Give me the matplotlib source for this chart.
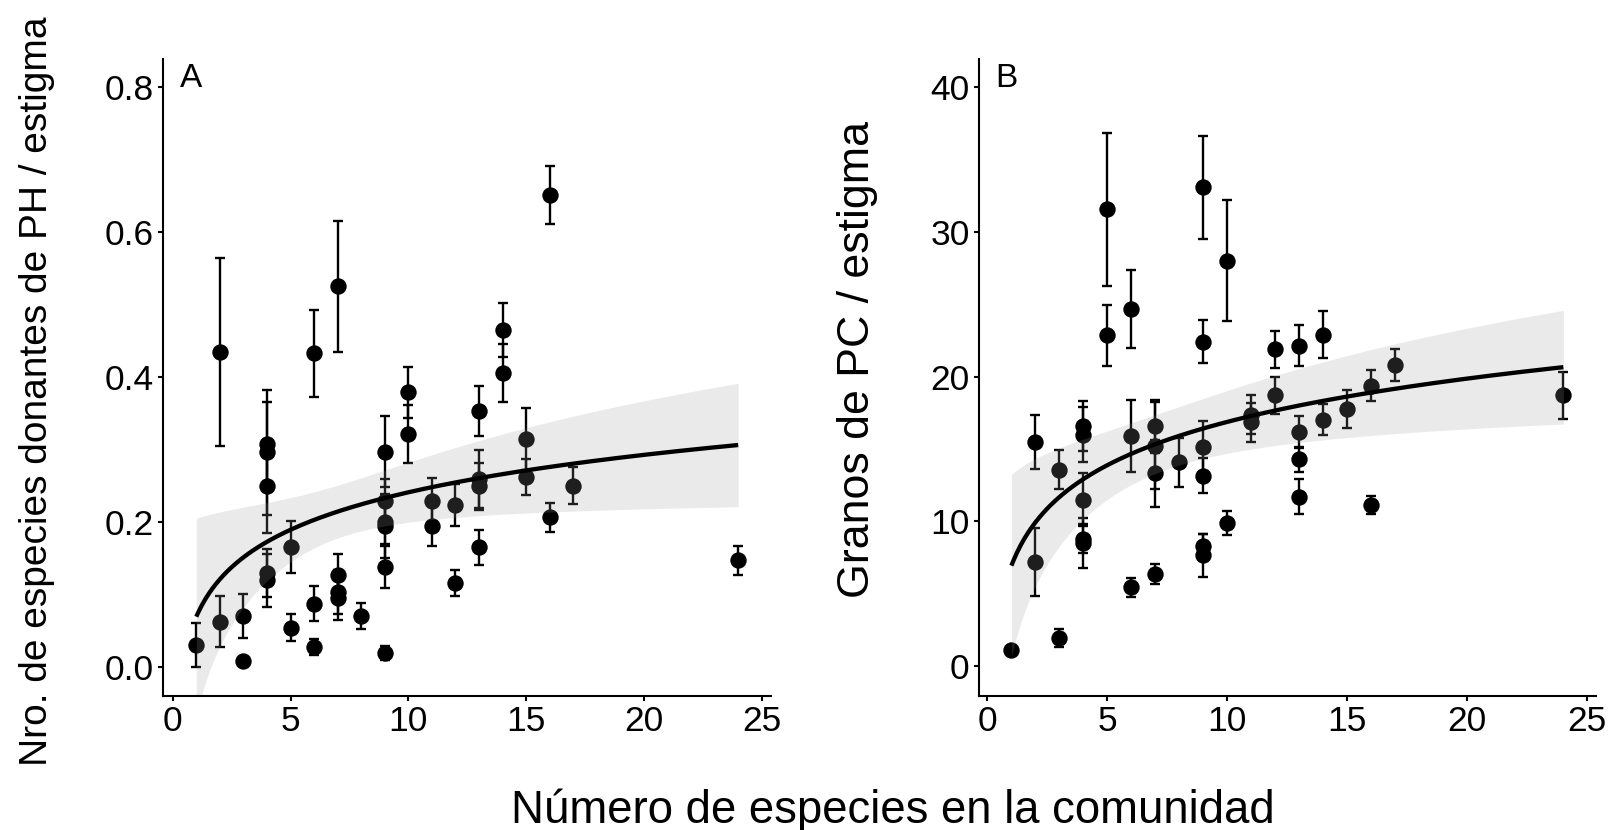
import numpy as np
import matplotlib
matplotlib.use("Agg")
import matplotlib.pyplot as plt

plt.rcParams['font.family'] = ['Liberation Sans', 'DejaVu Sans']

# ---------------- Panel A data ----------------
a_x = [1, 2, 2, 3, 3, 4, 4, 4, 4, 4, 5, 5, 6, 6, 6, 7, 7, 7, 7, 8,
       9, 9, 9, 9, 9, 9, 10, 10, 11, 11, 12, 12, 13, 13, 13, 13, 14, 14,
       15, 15, 16, 16, 17, 24]
a_y = [0.030, 0.435, 0.062, 0.070, 0.008, 0.307, 0.296, 0.249, 0.129, 0.119,
       0.165, 0.054, 0.433, 0.087, 0.027, 0.525, 0.126, 0.103, 0.095, 0.070,
       0.297, 0.229, 0.200, 0.194, 0.137, 0.019, 0.379, 0.321, 0.229, 0.194,
       0.223, 0.116, 0.353, 0.259, 0.249, 0.165, 0.465, 0.406,
       0.314, 0.262, 0.651, 0.206, 0.250, 0.147]
a_err = [0.030, 0.130, 0.035, 0.030, 0.004, 0.059, 0.086, 0.064, 0.033, 0.036,
         0.036, 0.019, 0.060, 0.024, 0.011, 0.090, 0.030, 0.030, 0.030, 0.018,
         0.049, 0.030, 0.030, 0.044, 0.029, 0.010, 0.035, 0.040, 0.031, 0.028,
         0.029, 0.018, 0.034, 0.040, 0.032, 0.024, 0.037, 0.040,
         0.043, 0.025, 0.040, 0.020, 0.026, 0.020]
# fitted model y = a + b*ln(x); CI half width = sqrt(c0 + c1*(ln x - m)^2)
a_fit = dict(a=0.069, b=0.0746, c0=0.00132, c1=0.004286, m=2.0)

# ---------------- Panel B data ----------------
b_x = [1, 2, 2, 3, 3, 4, 4, 4, 4, 4, 5, 5, 6, 6, 6, 7, 7, 7, 7, 8,
       9, 9, 9, 9, 9, 9, 10, 10, 11, 11, 12, 12, 13, 13, 13, 13, 14, 14,
       15, 16, 16, 17, 24]
b_y = [1.09, 15.46, 7.17, 13.57, 1.94, 16.57, 16.00, 11.51, 8.80, 8.51,
       31.57, 22.86, 24.66, 15.89, 5.43, 16.57, 15.23, 13.31, 6.37, 14.09,
       33.09, 22.43, 15.17, 13.17, 8.31, 7.66, 28.03, 9.89, 17.37, 16.86,
       21.89, 18.71, 22.14, 16.17, 14.29, 11.71, 22.91, 17.03,
       17.77, 19.37, 11.14, 20.80, 18.71]
b_err = [0.20, 1.86, 2.35, 1.33, 0.63, 1.72, 1.89, 1.85, 1.00, 1.70,
         5.30, 2.10, 2.70, 2.50, 0.65, 1.85, 3.00, 2.30, 0.70, 1.70,
         3.55, 1.50, 1.80, 1.20, 0.80, 1.50, 4.20, 0.80, 1.35, 1.35,
         1.30, 1.30, 1.40, 1.10, 0.85, 1.20, 1.60, 1.05,
         1.33, 1.07, 0.60, 1.10, 1.60]
b_fit = dict(a=6.94, b=4.317, c0=4.07, c1=8.62, m=2.03)

a_yticks = [0.0, 0.2, 0.4, 0.6, 0.8]
a_yticklabels = ['0.0', '0.2', '0.4', '0.6', '0.8']
b_yticks = [0, 10, 20, 30, 40]
x_ticks = [0, 5, 10, 15, 20, 25]

a_ylabel = 'Nro. de especies donantes de PH / estigma'
b_ylabel = 'Granos de PC / estigma'
x_label = 'Número de especies en la comunidad'

W, H = 1613, 830
fig = plt.figure(figsize=(W / 100, H / 100), dpi=100)


def fpos(l, r, t, b):
    return [l / W, 1 - b / H, (r - l) / W, (b - t) / H]


axA = fig.add_axes(fpos(163.3, 770.7, 59.3, 696))
axB = fig.add_axes(fpos(979, 1596, 59.3, 696))


def draw(ax, x, y, err, fit, xlim, ylim, yticks, yticklabels, tag):
    ax.errorbar(x, y, yerr=err, fmt='none', ecolor='black', elinewidth=1.7,
                capsize=3.8, capthick=1.7, zorder=2)
    ax.plot(x, y, 'o', color='black', markersize=11.8, mew=0, zorder=3)
    xs = np.linspace(min(x), max(x), 300)
    L = np.log(xs)
    mu = fit['a'] + fit['b'] * L
    hw = np.sqrt(fit['c0'] + fit['c1'] * (L - fit['m']) ** 2)
    ax.fill_between(xs, mu - hw, mu + hw, color='#999999', alpha=0.2, lw=0, zorder=4)
    ax.plot(xs, mu, color='black', lw=3.1, zorder=5, solid_capstyle='butt')
    ax.set_xlim(*xlim)
    ax.set_ylim(*ylim)
    ax.set_xticks(x_ticks)
    ax.set_yticks(yticks)
    ax.set_yticklabels(yticklabels)
    for s in ['top', 'right']:
        ax.spines[s].set_visible(False)
    for s in ['left', 'bottom']:
        ax.spines[s].set_linewidth(1.5)
        ax.spines[s].set_zorder(6)
    ax.tick_params(axis='both', length=3.8, width=1.5, labelsize=25.5,
                   colors='black', pad=3)
    ax.text(0.027, 0.957, tag, transform=ax.transAxes, fontsize=24,
            ha='left', va='baseline')


draw(axA, a_x, a_y, a_err, a_fit, (-0.40, 25.38), (-0.0405, 0.8387),
     a_yticks, a_yticklabels, 'A')
draw(axB, b_x, b_y, b_err, b_fit, (-0.35, 25.36), (-2.07, 41.94),
     b_yticks, [str(t) for t in b_yticks], 'B')

fig.text(37 / W, 1 - 391 / H, a_ylabel, rotation=90, ha='center', va='center',
         fontsize=28)
fig.text(857 / W, 1 - 359 / H, b_ylabel, rotation=90, ha='center', va='center',
         fontsize=32.2)
fig.text(893 / W, 1 - 823 / H, x_label, ha='center', va='baseline', fontsize=32.8)

fig.savefig('out.png', dpi=100)
